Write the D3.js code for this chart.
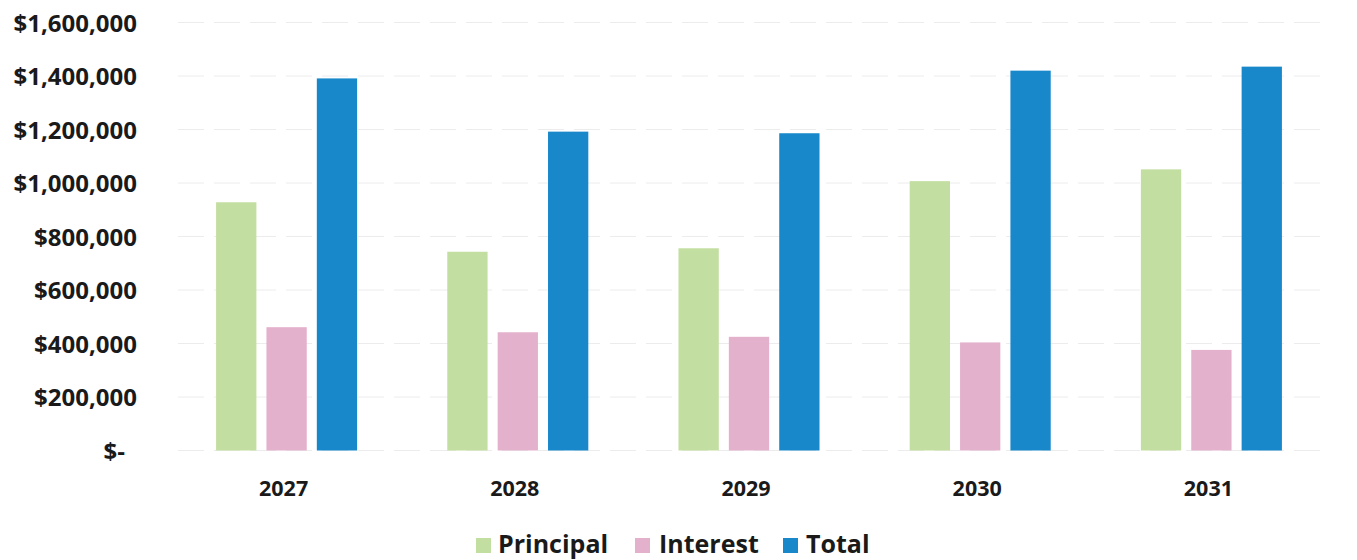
<!DOCTYPE html>
<html>
<head>
<meta charset="utf-8">
<script src="https://cdn.jsdelivr.net/npm/d3@7"></script>
<style>
  html, body { margin: 0; padding: 0; background: #fff; }
  svg { display: block; font-family: "Open Sans", Lato, sans-serif; }
</style>
</head>
<body>
<svg id="chart" width="1357" height="560"></svg>
<script>
// Debt service schedule by year
const years = ["2027", "2028", "2029", "2030", "2031"];
const seriesNames = ["Principal", "Interest", "Total"];
const principal = [928000, 743000, 756000, 1007000, 1051000];
const interest = [461000, 442000, 425000, 404000, 376000];
const total = [1391000, 1192000, 1186000, 1420000, 1435000];
const yTicks = [0, 200000, 400000, 600000, 800000, 1000000, 1200000, 1400000, 1600000];
const colors = ["#c3dea1", "#e4b1cd", "#1888cb"];

const seriesValues = [principal, interest, total];
const rows = years.map((yr, i) => ({
  year: yr,
  values: seriesNames.map((s, k) => ({ series: s, value: seriesValues[k][i] }))
}));

const svg = d3.select("#chart");
const FONT = "'Open Sans', Lato, sans-serif";

const x0 = d3.scaleBand()
  .domain(years)
  .range([171, 1327])
  .paddingInner(0.39)
  .paddingOuter(0.195);

const x1 = d3.scaleBand()
  .domain(seriesNames)
  .range([0, x0.bandwidth()])
  .paddingInner(0.2);

const y = d3.scaleLinear()
  .domain([0, 1600000])
  .range([450.5, 22.5]);

const color = d3.scaleOrdinal().domain(seriesNames).range(colors);

// faint horizontal gridlines
svg.append("g")
  .selectAll("line")
  .data(yTicks)
  .join("line")
  .attr("x1", 178)
  .attr("x2", 1322)
  .attr("y1", d => y(d))
  .attr("y2", d => y(d))
  .attr("stroke", "#ececec")
  .attr("stroke-width", 1)
  .attr("stroke-dasharray", "26,10");

// y axis labels
const fmt = d3.format("$,.0f");
const yAxis = d3.axisLeft(y)
  .tickValues(yTicks)
  .tickSize(0)
  .tickPadding(0)
  .tickFormat(d => d === 0 ? "$-" : fmt(d));

const yg = svg.append("g")
  .attr("transform", "translate(137,0)")
  .call(yAxis);
yg.select(".domain").remove();
yg.selectAll("text")
  .attr("font-family", FONT)
  .attr("font-weight", 700)
  .attr("font-size", 24)
  .attr("fill", "#1a1a1a")
  .attr("dy", "0.36em")
  .attr("x", d => d === 0 ? -12 : 0);

// grouped bars
const groups = svg.append("g")
  .selectAll("g")
  .data(rows)
  .join("g")
  .attr("transform", d => `translate(${x0(d.year)},0)`);

groups.selectAll("rect")
  .data(d => d.values)
  .join("rect")
  .attr("x", d => x1(d.series))
  .attr("width", x1.bandwidth())
  .attr("y", d => y(d.value))
  .attr("height", d => y(0) - y(d.value))
  .attr("fill", d => color(d.series));

// x axis labels
const xAxis = d3.axisBottom(x0).tickSize(0).tickPadding(0);
const xg = svg.append("g")
  .attr("transform", "translate(-3,481)")
  .call(xAxis);
xg.select(".domain").remove();
xg.selectAll("text")
  .attr("font-family", FONT)
  .attr("font-weight", 700)
  .attr("font-size", 21.5)
  .attr("fill", "#1a1a1a");

// legend
const legendX = [476, 635, 783];
const legend = svg.append("g")
  .selectAll("g")
  .data(seriesNames)
  .join("g")
  .attr("transform", (d, i) => `translate(${legendX[i]},538)`);

legend.append("rect")
  .attr("width", 15)
  .attr("height", 15)
  .attr("fill", d => color(d));

legend.append("text")
  .attr("x", (d, i) => [22, 24, 23][i])
  .attr("y", 15)
  .attr("font-family", FONT)
  .attr("font-weight", 700)
  .attr("font-size", 25)
  .attr("fill", "#1a1a1a")
  .text(d => d);
</script>
</body>
</html>
